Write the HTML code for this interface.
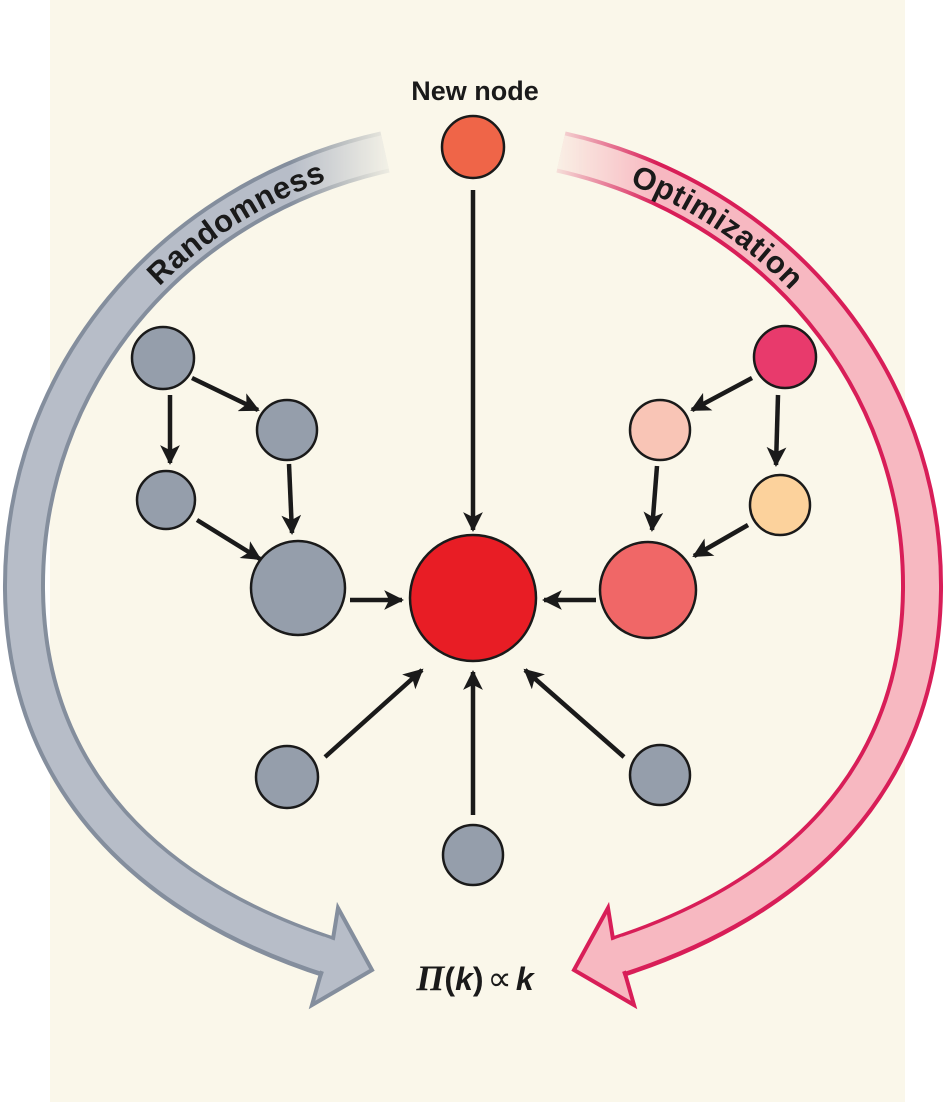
<!DOCTYPE html>
<html><head><meta charset="utf-8"><style>
html,body{margin:0;padding:0;background:#fff;}
svg{display:block;}
</style></head><body>
<svg width="946" height="1102" viewBox="0 0 946 1102" xmlns="http://www.w3.org/2000/svg">
<defs>
<marker id="ah" viewBox="0 0 10 10" refX="9" refY="5" markerWidth="4.6" markerHeight="4.4" orient="auto" markerUnits="strokeWidth">
<path d="M0,0 L10,5 L0,10 L2.5,5 Z" fill="#1a1a1a"/>
</marker>
<linearGradient id="fadeL" x1="290" y1="0" x2="395" y2="0" gradientUnits="userSpaceOnUse">
<stop offset="0" stop-color="#fff"/><stop offset="1" stop-color="#fff" stop-opacity="0.05"/>
</linearGradient>
<linearGradient id="fadeR" x1="656" y1="0" x2="550" y2="0" gradientUnits="userSpaceOnUse">
<stop offset="0" stop-color="#fff"/><stop offset="1" stop-color="#fff" stop-opacity="0.05"/>
</linearGradient>
<mask id="mL" maskUnits="userSpaceOnUse" x="0" y="0" width="946" height="1102">
<rect x="0" y="0" width="946" height="1102" fill="#fff"/>
<rect x="290" y="100" width="120" height="120" fill="#000"/>
<rect x="290" y="100" width="120" height="120" fill="url(#fadeL)"/>
</mask>
<mask id="mR" maskUnits="userSpaceOnUse" x="0" y="0" width="946" height="1102">
<rect x="0" y="0" width="946" height="1102" fill="#fff"/>
<rect x="536" y="100" width="120" height="120" fill="#000"/>
<rect x="536" y="100" width="120" height="120" fill="url(#fadeR)"/>
</mask>
<path id="tL" d="M327,957 C150,900 26,780 24,590 C22,380 170,200 385,152"/>
<path id="tR" d="M561,152 C776,200 924,380 922,590 C920,780 796,900 619,957"/>
</defs>
<rect x="50" y="0" width="855" height="1102" fill="#faf7ea"/>

<g mask="url(#mL)">
<path d="M385,152 C170,200 22,380 24,590 C26,780 150,900 332,958" fill="none" stroke="#848e9d" stroke-width="42"/>
<path d="M385,152 C170,200 22,380 24,590 C26,780 150,900 334,958" fill="none" stroke="#b7bdc8" stroke-width="34"/>
</g>
<polygon points="338,908 372,970 312,1005 320,977 333,939" fill="#b7bdc8" stroke="#848e9d" stroke-width="4" stroke-linejoin="miter"/>
<path d="M318,952 L334,958" stroke="#b7bdc8" stroke-width="33"/>

<g mask="url(#mR)">
<path d="M561,152 C776,200 924,380 922,590 C920,780 796,900 614,958" fill="none" stroke="#d81e58" stroke-width="42"/>
<path d="M561,152 C776,200 924,380 922,590 C920,780 796,900 612,958" fill="none" stroke="#f7b8c1" stroke-width="34"/>
</g>
<polygon points="608,908 574,970 634,1005 626,977 613,939" fill="#f7b8c1" stroke="#d81e58" stroke-width="4"/>
<path d="M628,952 L612,958" stroke="#f7b8c1" stroke-width="33"/>

<text font-family="Liberation Sans, sans-serif" font-weight="bold" font-size="31" fill="#1a1a1a" dominant-baseline="central" letter-spacing="1" text-anchor="end"><textPath href="#tL" startOffset="94.3%">Randomness</textPath></text>
<text font-family="Liberation Sans, sans-serif" font-weight="bold" font-size="31" fill="#1a1a1a" dominant-baseline="central" letter-spacing="1"><textPath href="#tR" startOffset="76">Optimization</textPath></text>

<text x="475" y="100" text-anchor="middle" font-family="Liberation Sans, sans-serif" font-weight="bold" font-size="27" fill="#1a1a1a">New node</text>

<g stroke="#1a1a1a" stroke-width="4.5" fill="none" marker-end="url(#ah)">
<line x1="473" y1="190" x2="473" y2="530"/>
<line x1="192" y1="378" x2="258" y2="410"/>
<line x1="170" y1="395" x2="170" y2="463"/>
<line x1="289" y1="464" x2="292" y2="533"/>
<line x1="197" y1="520" x2="260" y2="559"/>
<line x1="350" y1="600" x2="402" y2="600"/>
<line x1="752" y1="378" x2="692" y2="410"/>
<line x1="778" y1="395" x2="776" y2="465"/>
<line x1="657" y1="466" x2="652" y2="530"/>
<line x1="748" y1="525" x2="694" y2="556"/>
<line x1="596" y1="600" x2="544" y2="600"/>
<line x1="325" y1="757" x2="422" y2="670"/>
<line x1="473" y1="815" x2="473" y2="672"/>
<line x1="624" y1="757" x2="525" y2="670"/>
</g>

<g stroke="#1a1a1a" stroke-width="2.5">
<circle cx="473" cy="147" r="31" fill="#ef6548"/>
<circle cx="473" cy="598" r="63" fill="#e81d25"/>
<circle cx="163" cy="358" r="31" fill="#959eab"/>
<circle cx="287" cy="430" r="30" fill="#959eab"/>
<circle cx="166" cy="500" r="29" fill="#959eab"/>
<circle cx="298" cy="588" r="47" fill="#959eab"/>
<circle cx="785" cy="357" r="31" fill="#e83a6c"/>
<circle cx="660" cy="430" r="30" fill="#f9c5b6"/>
<circle cx="780" cy="505" r="30" fill="#fcd29c"/>
<circle cx="648" cy="590" r="48" fill="#f06767"/>
<circle cx="287" cy="777" r="31" fill="#959eab"/>
<circle cx="473" cy="855" r="30" fill="#959eab"/>
<circle cx="660" cy="775" r="30" fill="#959eab"/>
</g>

<text x="475" y="990" text-anchor="middle" font-family="Liberation Serif, serif" font-size="36" fill="#1a1a1a"><tspan font-style="italic" font-weight="bold">Π</tspan><tspan font-family="Liberation Sans, sans-serif" font-weight="bold" font-size="32">(</tspan><tspan font-family="Liberation Sans, sans-serif" font-weight="bold" font-style="italic" font-size="32">k</tspan><tspan font-family="Liberation Sans, sans-serif" font-weight="bold" font-size="32">)</tspan><tspan font-family="DejaVu Sans, sans-serif" font-size="34" dx="4">∝</tspan><tspan font-family="Liberation Sans, sans-serif" font-weight="bold" font-style="italic" font-size="32" dx="4">k</tspan></text>
</svg>
</body></html>
